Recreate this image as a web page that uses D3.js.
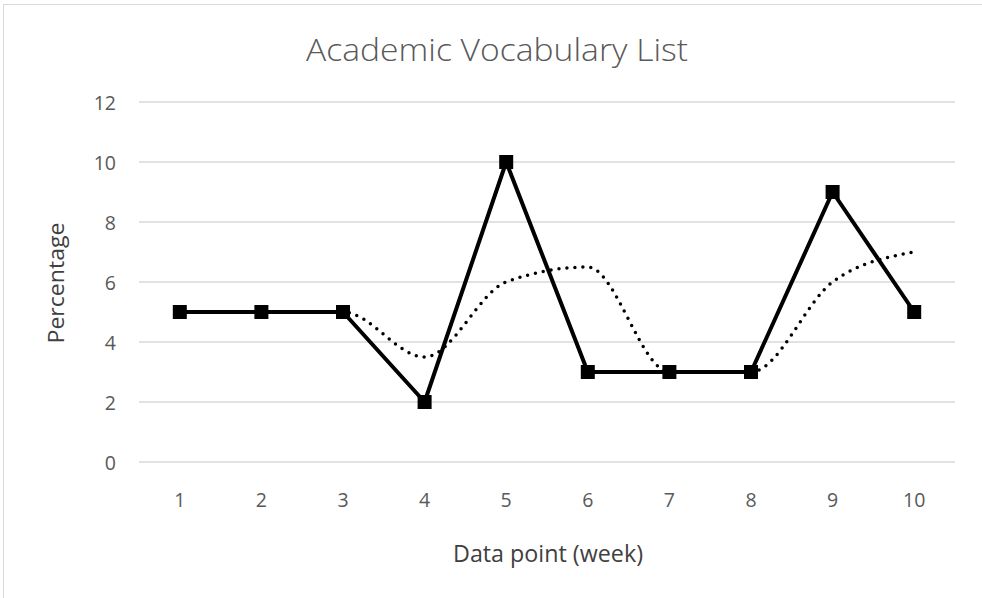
<!DOCTYPE html>
<html>
<head>
<meta charset="utf-8">
<script src="https://cdn.jsdelivr.net/npm/d3@7"></script>
<style>
  body { margin: 0; background: #fff; }
  svg { display: block; font-family: "Open Sans", "Liberation Sans", sans-serif; }
</style>
</head>
<body>
<div id="chart"></div>
<script>
// weeks and values
const weeks = [1, 2, 3, 4, 5, 6, 7, 8, 9, 10];
const percentage = [5, 5, 5, 2, 10, 3, 3, 3, 9, 5];
// 2-period moving average trend (starts at week 2)
const trendWeeks = [2, 3, 4, 5, 6, 7, 8, 9, 10];
const trendValues = [5, 5, 3.5, 6, 6.5, 3, 3, 6, 7];
const yTicks = [0, 2, 4, 6, 8, 10, 12];

const width = 982, height = 598;
const margin = { top: 102, right: 27, bottom: 136, left: 139 };

const svg = d3.select("#chart").append("svg")
  .attr("width", width)
  .attr("height", height);

// outer frame
svg.append("rect")
  .attr("x", 3.5).attr("y", 4.5)
  .attr("width", width + 10).attr("height", height + 10)
  .attr("fill", "none")
  .attr("stroke", "#d9d9d9")
  .attr("stroke-width", 1);

const x = d3.scaleBand()
  .domain(weeks)
  .range([margin.left, width - margin.right]);

const y = d3.scaleLinear()
  .domain([0, 12])
  .range([height - margin.bottom, margin.top]);

const cx = d => x(d) + x.bandwidth() / 2;

// gridlines
svg.append("g")
  .selectAll("line")
  .data(yTicks)
  .enter()
  .append("line")
  .attr("x1", margin.left)
  .attr("x2", width - margin.right)
  .attr("y1", d => y(d))
  .attr("y2", d => y(d))
  .attr("stroke", "#d9d9d9")
  .attr("stroke-width", 1.5);

// y axis labels
const yAxis = svg.append("g")
  .attr("transform", "translate(116,0)")
  .call(d3.axisLeft(y).tickValues(yTicks).tickSize(0).tickPadding(0));
yAxis.select(".domain").remove();
yAxis.selectAll("text")
  .attr("font-size", "19.5px")
  .attr("fill", "#595959")
  .attr("font-family", "'Open Sans', sans-serif")
  .attr("dy", "0.36em");

// x axis labels
const xAxis = svg.append("g")
  .attr("transform", "translate(0,507)")
  .call(d3.axisBottom(x).tickSize(0).tickPadding(0));
xAxis.select(".domain").remove();
xAxis.selectAll("text")
  .attr("font-size", "19.5px")
  .attr("fill", "#595959")
  .attr("font-family", "'Open Sans', sans-serif")
  .attr("y", 0)
  .attr("dy", 0);

// title
svg.append("text")
  .attr("x", 497)
  .attr("y", 61)
  .attr("text-anchor", "middle")
  .attr("font-size", "32px")
  .attr("font-weight", 300)
  .attr("fill", "#595959")
  .attr("textLength", 382)
  .attr("lengthAdjust", "spacingAndGlyphs")
  .text("Academic Vocabulary List");

// axis titles
svg.append("text")
  .attr("x", 548)
  .attr("y", 562)
  .attr("text-anchor", "middle")
  .attr("font-size", "23px")
  .attr("fill", "#404040")
  .attr("textLength", 190)
  .attr("lengthAdjust", "spacingAndGlyphs")
  .text("Data point (week)");

svg.append("text")
  .attr("transform", "translate(64,283) rotate(-90)")
  .attr("text-anchor", "middle")
  .attr("font-size", "22px")
  .attr("fill", "#404040")
  .attr("textLength", 121)
  .attr("lengthAdjust", "spacingAndGlyphs")
  .text("Percentage");

// main series
const line = d3.line()
  .x((d, i) => cx(weeks[i]))
  .y(d => y(d));

svg.append("path")
  .datum(percentage)
  .attr("d", line)
  .attr("fill", "none")
  .attr("stroke", "#000")
  .attr("stroke-width", 4)
  .attr("stroke-linejoin", "round");

// trend (dotted, smoothed)
const trendLine = d3.line()
  .x((d, i) => cx(trendWeeks[i]))
  .y(d => y(d))
  .curve(d3.curveMonotoneX);

svg.append("path")
  .datum(trendValues)
  .attr("d", trendLine)
  .attr("fill", "none")
  .attr("stroke", "#000")
  .attr("stroke-width", 3.5)
  .attr("stroke-linecap", "round")
  .attr("stroke-dasharray", "0,8");

// markers
svg.selectAll(".marker")
  .data(percentage)
  .enter()
  .append("rect")
  .attr("class", "marker")
  .attr("x", (d, i) => cx(weeks[i]) - 7)
  .attr("y", d => y(d) - 7)
  .attr("width", 14)
  .attr("height", 14)
  .attr("fill", "#000");
</script>
</body>
</html>
